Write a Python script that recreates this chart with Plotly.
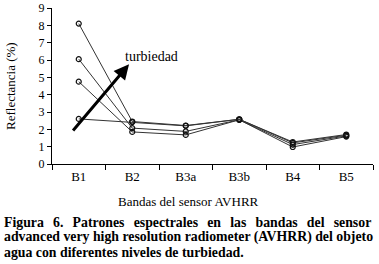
import plotly.graph_objects as go

bands = ["B1", "B2", "B3a", "B3b", "B4", "B5"]
serie_a = [8.1, 2.45, 2.22, 2.58, 1.27, 1.70]
serie_b = [6.05, 2.07, 1.88, 2.55, 1.12, 1.62]
serie_c = [4.75, 1.85, 1.68, 2.55, 0.98, 1.58]
serie_d = [2.6, 2.42, 2.20, 2.58, 1.22, 1.66]
y_ticks = [0, 1, 2, 3, 4, 5, 6, 7, 8, 9]

SERIF = "Liberation Serif, Times New Roman, serif"

fig = go.Figure()
for s in [serie_d, serie_c, serie_b, serie_a]:
    fig.add_trace(go.Scatter(
        x=bands, y=s, mode="lines+markers",
        line=dict(color="#333333", width=1),
        marker=dict(symbol="circle-open", size=5, color="#111111", line=dict(width=1.2)),
        showlegend=False, cliponaxis=False, hoverinfo="skip"))

fig.update_layout(
    width=379, height=264,
    margin=dict(l=52, r=6, t=8, b=100),
    paper_bgcolor="white", plot_bgcolor="white",
    font=dict(family=SERIF, color="black", size=13),
    xaxis=dict(range=[-0.5, 5.5], showline=True, linecolor="black", linewidth=1,
               ticks="outside", tickson="boundaries", ticklen=5, tickcolor="black",
               showgrid=False, zeroline=False, tickfont=dict(size=13), automargin=False),
    yaxis=dict(range=[0, 9], tickvals=y_ticks, showline=True, linecolor="black", linewidth=1,
               ticks="outside", ticklen=4, tickcolor="black", showgrid=False, zeroline=False,
               tickfont=dict(size=12), automargin=False),
)

# arrow
fig.add_annotation(x=0.94, y=5.75, ax=-0.13, ay=1.85, xref="x", yref="y", axref="x", ayref="y",
                   text="", showarrow=True, arrowhead=2, arrowsize=1, arrowwidth=3, arrowcolor="black")
fig.add_annotation(x=0.82, y=6.2, xref="x", yref="y", text="turbiedad", showarrow=False,
                   xanchor="left", yanchor="middle", font=dict(size=14, family=SERIF))

# axis titles
fig.add_annotation(x=10, y=86, text="Reflectancia (%)", showarrow=False,
                   textangle=-90, xanchor="center", yanchor="middle",
                   font=dict(size=13, family=SERIF))
fig.add_annotation(x=188, y=201, text="Bandas del sensor AVHRR", showarrow=False,
                   xanchor="center", yanchor="middle", font=dict(size=13, family=SERIF))

NB = "\u00a0\u00a0\u2006"
caption = [NB.join("Figura 6. Patrones espectrales en las bandas del sensor".split(" ")),
           "advanced very high resolution radiometer (AVHRR) del objeto",
           "agua con diferentes niveles de turbiedad."]
for i, line in enumerate(caption):
    fig.add_annotation(x=2, y=222 + 15 * i, text="<b>" + line + "</b>", showarrow=False,
                       xanchor="left", yanchor="middle", font=dict(size=13.8, family=SERIF))

# convert pixel-coordinate annotations to paper coords
W, H = 379, 264
l, r, t, b = 52, 6, 8, 100
pw, ph = W - l - r, H - t - b
for a in fig.layout.annotations:
    if a.xref != "x":
        a.xref = "paper"
        a.yref = "paper"
        a.x = (a.x - l) / pw
        a.y = (H - b - a.y) / ph

fig.write_html("out.html", config={"displayModeBar": False},
               post_script="document.body.style.margin='0';")
